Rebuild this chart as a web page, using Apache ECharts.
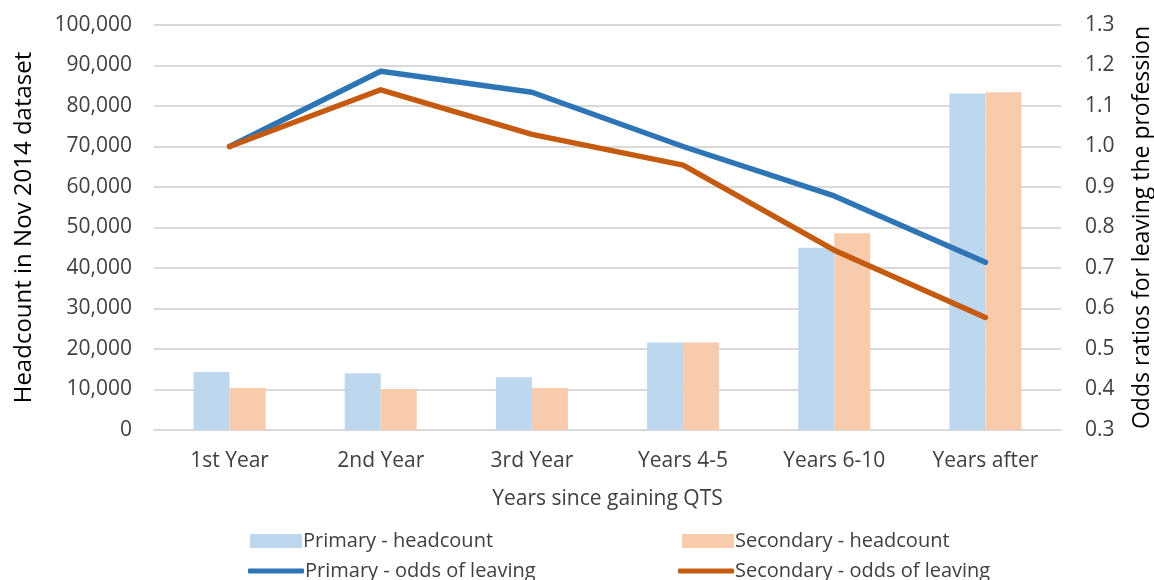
<!DOCTYPE html>
<html>
<head>
<meta charset="utf-8">
<script src="https://cdn.jsdelivr.net/npm/echarts@6/dist/echarts.min.js"></script>
<style>
  html, body { margin: 0; padding: 0; background: #fff; }
  #chart { width: 1154px; height: 580px; }
</style>
</head>
<body>
<div id="chart"></div>
<script>
// categories and values
const categories = ['1st Year', '2nd Year', '3rd Year', 'Years 4-5', 'Years 6-10', 'Years after']
const primaryHeadcount = [14300, 14000, 13000, 21600, 45000, 83100]
const secondaryHeadcount = [10400, 10100, 10400, 21600, 48600, 83400]
const primaryOdds = [1.0, 1.186, 1.134, 1.0, 0.878, 0.714]
const secondaryOdds = [1.0, 1.14, 1.03, 0.954, 0.744, 0.578]

const font = 'Open Sans'
const textColor = '#404040'
const gridColor = '#D9D9D9'
const primaryLight = '#BDD7EE'
const secondaryLight = '#F8CBAD'
const primaryDark = '#2E75B6'
const secondaryDark = '#C55A11'

const chart = echarts.init(document.getElementById('chart'))

// one legend per entry so the 2x2 layout matches the reference
const legendItem = (name, left, top, isLine) => ({
  left: left,
  top: top,
  itemWidth: isLine ? 56 : 52,
  itemHeight: isLine ? 5 : 14,
  icon: isLine ? 'roundRect' : 'rect',
  itemGap: 0,
  textStyle: { fontFamily: font, fontSize: 20, color: textColor, padding: [0, 0, 0, -4] },
  data: [name]
})

const option = {
  animation: false,
  textStyle: { fontFamily: font },
  grid: { left: 154, right: 93, top: 25, bottom: 150, outerBoundsMode: 'none' },
  legend: [
    legendItem('Primary - headcount', 245, 526, false),
    legendItem('Secondary - headcount', 677, 526, false),
    legendItem('Primary - odds of leaving', 243, 556, true),
    legendItem('Secondary - odds of leaving', 673, 556, true)
  ],
  xAxis: {
    type: 'category',
    data: categories,
    name: 'Years since gaining QTS',
    nameLocation: 'middle',
    nameGap: 59,
    nameTextStyle: { fontFamily: font, fontSize: 21, color: textColor },
    axisLine: { lineStyle: { color: gridColor, width: 2 } },
    axisTick: { show: false },
    axisLabel: { fontFamily: font, fontSize: 21, color: textColor, margin: 21 }
  },
  yAxis: [
    {
      type: 'value',
      min: 0,
      max: 100000,
      interval: 10000,
      name: 'Headcount in Nov 2014 dataset',
      nameLocation: 'middle',
      nameGap: 118,
      nameTextStyle: { fontFamily: font, fontSize: 24, color: '#000' },
      axisLine: { show: false },
      axisTick: { show: false },
      axisLabel: {
        fontFamily: font,
        fontSize: 21,
        color: textColor,
        margin: 22,
        formatter: v => v.toLocaleString('en-US')
      },
      splitLine: { lineStyle: { color: gridColor, width: 2 } }
    },
    {
      type: 'value',
      min: 0.3,
      max: 1.3,
      interval: 0.1,
      name: 'Odds ratios for leaving the profession',
      nameLocation: 'middle',
      nameGap: 70,
      nameTextStyle: { fontFamily: font, fontSize: 23, color: '#000' },
      axisLine: { show: false },
      axisTick: { show: false },
      axisLabel: {
        fontFamily: font,
        fontSize: 21,
        color: textColor,
        margin: 24,
        formatter: v => v.toFixed(1)
      },
      splitLine: { show: false }
    }
  ],
  series: [
    {
      name: 'Primary - headcount',
      type: 'bar',
      data: primaryHeadcount,
      barWidth: 36,
      barGap: '0%',
      itemStyle: { color: primaryLight }
    },
    {
      name: 'Secondary - headcount',
      type: 'bar',
      data: secondaryHeadcount,
      barWidth: 36,
      barGap: '0%',
      itemStyle: { color: secondaryLight }
    },
    {
      name: 'Primary - odds of leaving',
      type: 'line',
      yAxisIndex: 1,
      data: primaryOdds,
      symbol: 'none',
      lineStyle: { color: primaryDark, width: 5.5, cap: 'round', join: 'round' },
      itemStyle: { color: primaryDark }
    },
    {
      name: 'Secondary - odds of leaving',
      type: 'line',
      yAxisIndex: 1,
      data: secondaryOdds,
      symbol: 'none',
      lineStyle: { color: secondaryDark, width: 5.5, cap: 'round', join: 'round' },
      itemStyle: { color: secondaryDark }
    }
  ]
}

chart.setOption(option)
</script>
</body>
</html>
